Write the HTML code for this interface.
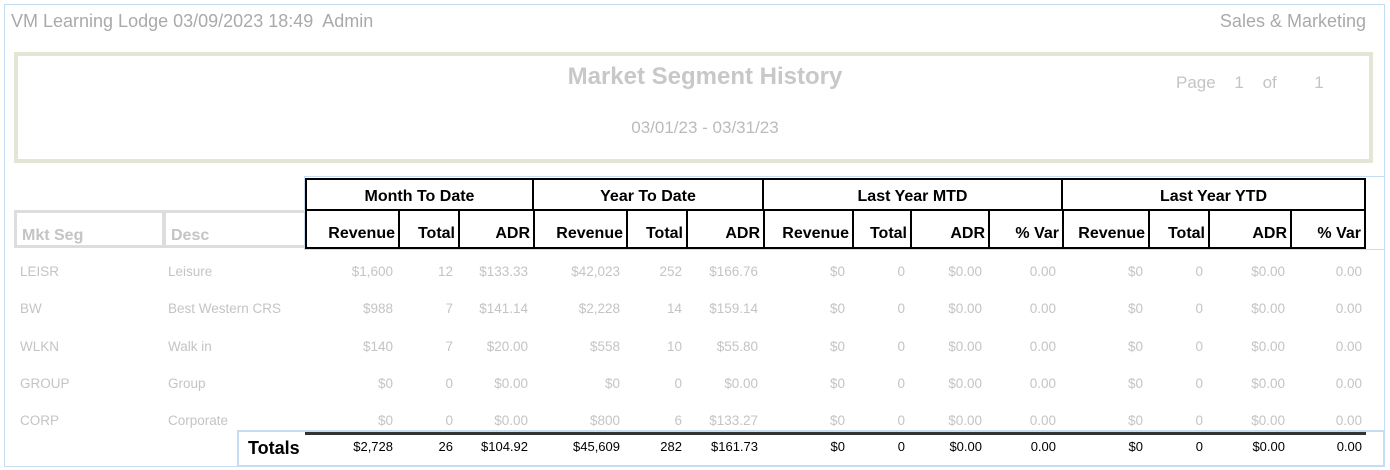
<!DOCTYPE html>
<html><head><meta charset="utf-8"><style>
body{margin:0;width:1390px;height:470px;background:#fff;position:relative;overflow:hidden;font-family:"Liberation Sans",sans-serif}
div,span{position:absolute;box-sizing:border-box}
.g{color:#aaa}
.d{color:#c4c4c4;font-size:13.5px;top:0}
.t{color:#000;font-size:13px}
.h{border:2px solid #000;font-weight:bold;font-size:16px;color:#000;text-align:center;line-height:33px}
.c{border:2px solid #000;font-weight:bold;font-size:16px;color:#000;text-align:right;padding-right:3px;line-height:46px}
</style></head><body>
<div style="left:4px;top:4px;width:1381px;height:463px;border:1px solid #c6dcf2"></div>
<span class="g" style="left:11px;top:11px;font-size:18px">VM Learning Lodge 03/09/2023 18:49&nbsp; Admin</span>
<span class="g" style="right:24px;top:11px;font-size:18px">Sales &amp; Marketing</span>
<div style="left:14px;top:52px;width:1359px;height:111px;border:4px solid #e5e5d6"></div>
<span style="left:0;width:1410px;text-align:center;top:63px;font-size:24px;font-weight:bold;color:#c8c8c8">Market Segment History</span>
<span style="left:0;width:1410px;text-align:center;top:118px;font-size:17px;color:#bbb">03/01/23 - 03/31/23</span>
<span style="left:1176px;top:73px;font-size:17px;color:#c4c4c4;word-spacing:14px">Page 1 of &nbsp;1</span>
<div style="left:304px;top:176px;width:1081px;height:74px;border-top:1px solid #c6dcf2;border-bottom:1px solid #c6dcf2;border-left:1px solid #c6dcf2"></div>
<div class="h" style="left:305px;top:178px;width:229px;height:33px">Month To Date</div>
<div class="h" style="left:532px;top:178px;width:232px;height:33px">Year To Date</div>
<div class="h" style="left:762px;top:178px;width:301px;height:33px">Last Year MTD</div>
<div class="h" style="left:1061px;top:178px;width:305px;height:33px">Last Year YTD</div>
<div style="left:14px;top:210px;width:151px;height:38px;border:3px solid #ddd;color:#c4c4c4;font-weight:bold;font-size:16px;padding:14px 0 0 5px">Mkt Seg</div>
<div style="left:163px;top:210px;width:143px;height:38px;border:3px solid #ddd;border-right:none;color:#c4c4c4;font-weight:bold;font-size:16px;padding:14px 0 0 5px">Desc</div>
<div class="c" style="left:305px;top:209px;width:95px;height:40px">Revenue</div>
<div class="c" style="left:398px;top:209px;width:62px;height:40px">Total</div>
<div class="c" style="left:458px;top:209px;width:77px;height:40px">ADR</div>
<div class="c" style="left:533px;top:209px;width:95px;height:40px">Revenue</div>
<div class="c" style="left:626px;top:209px;width:62px;height:40px">Total</div>
<div class="c" style="left:686px;top:209px;width:79px;height:40px">ADR</div>
<div class="c" style="left:763px;top:209px;width:91px;height:40px">Revenue</div>
<div class="c" style="left:852px;top:209px;width:60px;height:40px">Total</div>
<div class="c" style="left:910px;top:209px;width:80px;height:40px">ADR</div>
<div class="c" style="left:988px;top:209px;width:76px;height:40px">% Var</div>
<div class="c" style="left:1062px;top:209px;width:88px;height:40px">Revenue</div>
<div class="c" style="left:1148px;top:209px;width:62px;height:40px">Total</div>
<div class="c" style="left:1208px;top:209px;width:84px;height:40px">ADR</div>
<div class="c" style="left:1290px;top:209px;width:76px;height:40px">% Var</div>

<div style="left:0;top:264px;width:1390px;height:20px">
<span class="d" style="left:20px">LEISR</span><span class="d" style="left:168px">Leisure</span>
<span class="d" style="right:997px">$1,600</span><span class="d" style="right:937px">12</span><span class="d" style="right:862px">$133.33</span><span class="d" style="right:770px">$42,023</span><span class="d" style="right:708px">252</span><span class="d" style="right:632px">$166.76</span><span class="d" style="right:545px">$0</span><span class="d" style="right:485px">0</span><span class="d" style="right:408px">$0.00</span><span class="d" style="right:334px">0.00</span><span class="d" style="right:247px">$0</span><span class="d" style="right:187px">0</span><span class="d" style="right:105px">$0.00</span><span class="d" style="right:28px">0.00</span></div>
<div style="left:0;top:301px;width:1390px;height:20px">
<span class="d" style="left:20px">BW</span><span class="d" style="left:168px">Best Western CRS</span>
<span class="d" style="right:997px">$988</span><span class="d" style="right:937px">7</span><span class="d" style="right:862px">$141.14</span><span class="d" style="right:770px">$2,228</span><span class="d" style="right:708px">14</span><span class="d" style="right:632px">$159.14</span><span class="d" style="right:545px">$0</span><span class="d" style="right:485px">0</span><span class="d" style="right:408px">$0.00</span><span class="d" style="right:334px">0.00</span><span class="d" style="right:247px">$0</span><span class="d" style="right:187px">0</span><span class="d" style="right:105px">$0.00</span><span class="d" style="right:28px">0.00</span></div>
<div style="left:0;top:339px;width:1390px;height:20px">
<span class="d" style="left:20px">WLKN</span><span class="d" style="left:168px">Walk in</span>
<span class="d" style="right:997px">$140</span><span class="d" style="right:937px">7</span><span class="d" style="right:862px">$20.00</span><span class="d" style="right:770px">$558</span><span class="d" style="right:708px">10</span><span class="d" style="right:632px">$55.80</span><span class="d" style="right:545px">$0</span><span class="d" style="right:485px">0</span><span class="d" style="right:408px">$0.00</span><span class="d" style="right:334px">0.00</span><span class="d" style="right:247px">$0</span><span class="d" style="right:187px">0</span><span class="d" style="right:105px">$0.00</span><span class="d" style="right:28px">0.00</span></div>
<div style="left:0;top:376px;width:1390px;height:20px">
<span class="d" style="left:20px">GROUP</span><span class="d" style="left:168px">Group</span>
<span class="d" style="right:997px">$0</span><span class="d" style="right:937px">0</span><span class="d" style="right:862px">$0.00</span><span class="d" style="right:770px">$0</span><span class="d" style="right:708px">0</span><span class="d" style="right:632px">$0.00</span><span class="d" style="right:545px">$0</span><span class="d" style="right:485px">0</span><span class="d" style="right:408px">$0.00</span><span class="d" style="right:334px">0.00</span><span class="d" style="right:247px">$0</span><span class="d" style="right:187px">0</span><span class="d" style="right:105px">$0.00</span><span class="d" style="right:28px">0.00</span></div>
<div style="left:0;top:413px;width:1390px;height:20px">
<span class="d" style="left:20px">CORP</span><span class="d" style="left:168px">Corporate</span>
<span class="d" style="right:997px">$0</span><span class="d" style="right:937px">0</span><span class="d" style="right:862px">$0.00</span><span class="d" style="right:770px">$800</span><span class="d" style="right:708px">6</span><span class="d" style="right:632px">$133.27</span><span class="d" style="right:545px">$0</span><span class="d" style="right:485px">0</span><span class="d" style="right:408px">$0.00</span><span class="d" style="right:334px">0.00</span><span class="d" style="right:247px">$0</span><span class="d" style="right:187px">0</span><span class="d" style="right:105px">$0.00</span><span class="d" style="right:28px">0.00</span></div>

<div style="left:237px;top:430px;width:1148px;height:37px;border:2px solid #c6dcf2"></div>
<div style="left:305px;top:432px;width:1061px;height:3px;background:#333"></div>
<span style="left:248px;top:438px;font-size:18px;font-weight:bold;color:#000">Totals</span>
<div style="left:0;top:439px;width:1390px;height:20px">
<span class="t" style="right:997px">$2,728</span><span class="t" style="right:937px">26</span><span class="t" style="right:862px">$104.92</span><span class="t" style="right:770px">$45,609</span><span class="t" style="right:708px">282</span><span class="t" style="right:632px">$161.73</span><span class="t" style="right:545px">$0</span><span class="t" style="right:485px">0</span><span class="t" style="right:408px">$0.00</span><span class="t" style="right:334px">0.00</span><span class="t" style="right:247px">$0</span><span class="t" style="right:187px">0</span><span class="t" style="right:105px">$0.00</span><span class="t" style="right:28px">0.00</span></div>
</body></html>
